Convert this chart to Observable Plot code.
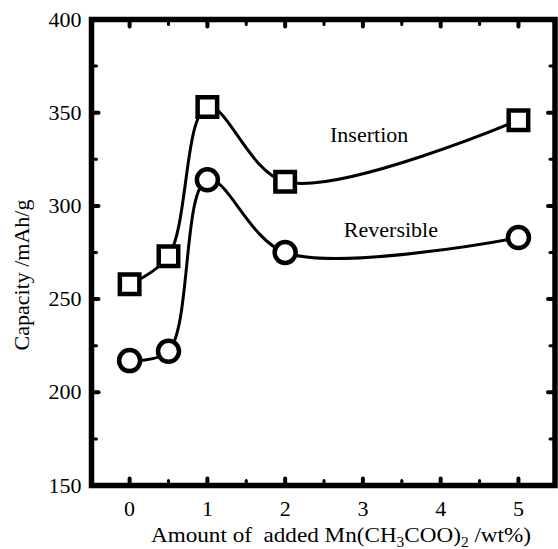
<!DOCTYPE html>
<html><head><meta charset="utf-8">
<script src="https://cdn.jsdelivr.net/npm/d3@7"></script>
<script src="https://cdn.jsdelivr.net/npm/@observablehq/plot@0.6"></script>
<style>body{margin:0;background:#fff} svg{display:block} svg text{font-family:'Liberation Serif','Times New Roman','DejaVu Serif',serif}</style>
</head><body><div id="chart"></div>
<script>
const amounts = [0, 0.5, 1, 2, 5];
const insertion = [258, 273, 353, 313, 346];
const reversible = [217, 222, 314, 275, 283];
const xMajorTicks = [0, 1, 2, 3, 4, 5];
const xMinorTicks = [0.5, 1.5, 2.5, 3.5, 4.5];
const yMajorTicks = [150, 200, 250, 300, 350, 400];
const yMinorTicks = [175, 225, 275, 325, 375];
const seriesNames = ["Insertion", "Reversible"];
const labelX = [3.08, 3.36];
const labelY = [338, 287];
const yTitle = "Capacity /mAh/g";

const ins = amounts.map((a, i) => ({x: a, y: insertion[i]}));
const rev = amounts.map((a, i) => ({x: a, y: reversible[i]}));
const labels = seriesNames.map((t, i) => ({t, x: labelX[i], y: labelY[i]}));
const tickShape = {draw(ctx, l) { ctx.moveTo(0, 0); ctx.lineTo(0, -l); }};
const F = "'Liberation Serif', 'Times New Roman', 'DejaVu Serif', serif";

function ticks(data, ch, anchor, rotate, length, sw) {
  return Plot.vector(data, {[ch]: d => d, frameAnchor: anchor, rotate, length, anchor: "start", shape: tickShape, stroke: "black", strokeWidth: sw});
}

const plot = Plot.plot({
  width: 558, height: 549,
  marginLeft: 91, marginRight: 3.5, marginTop: 19, marginBottom: 64,
  style: {fontFamily: F, fontSize: "22px", color: "black", background: "white"},
  x: {domain: [-0.49, 5.47]},
  y: {domain: [150, 400]},
  marks: [
    Plot.line(ins, {x: "x", y: "y", curve: "catmull-rom", stroke: "black", strokeWidth: 3}),
    Plot.line(rev, {x: "x", y: "y", curve: "catmull-rom", stroke: "black", strokeWidth: 3}),
    Plot.dot(ins, {x: "x", y: "y", symbol: "square", r: 11, stroke: "black", strokeWidth: 4.5, fill: "white"}),
    Plot.dot(rev, {x: "x", y: "y", symbol: "circle", r: 10.5, stroke: "black", strokeWidth: 4.5, fill: "white"}),
    Plot.text(labels, {x: "x", y: "y", text: "t", fontSize: 22, fontFamily: F, fill: "black"}),
    ticks(xMajorTicks, "x", "bottom", 0, 7, 4),
    ticks(xMinorTicks, "x", "bottom", 0, 5, 3),
    ticks(xMajorTicks, "x", "top", 180, 7, 4),
    ticks(xMinorTicks, "x", "top", 180, 5, 3),
    ticks(yMajorTicks, "y", "left", 90, 7, 4),
    ticks(yMinorTicks, "y", "left", 90, 5, 3),
    ticks(yMajorTicks, "y", "right", -90, 7, 4),
    ticks(yMinorTicks, "y", "right", -90, 5, 3),
    Plot.frame({stroke: "black", strokeWidth: 5.5}),
    Plot.axisX({ticks: xMajorTicks, tickFormat: d3.format("d"), tickSize: 0, tickPadding: 15, label: null, fontSize: 22}),
    Plot.axisY({ticks: yMajorTicks, tickFormat: d3.format("d"), tickSize: 0, tickPadding: 10, label: null, fontSize: 22})
  ]
});

const svg = d3.select(plot);
svg.append("text")
  .attr("transform", "translate(22,275) rotate(-90)")
  .attr("text-anchor", "middle").attr("dy", "0.32em")
  .attr("font-size", 22).attr("fill", "black")
  .style("font-family", F)
  .text(yTitle);

const t = svg.append("text")
  .attr("x", 341).attr("y", 542)
  .attr("text-anchor", "middle")
  .attr("font-size", 21).attr("fill", "black")
  .attr("textLength", 380).attr("lengthAdjust", "spacingAndGlyphs")
  .style("font-family", F)
  .attr("xml:space", "preserve");
t.append("tspan").text("Amount of\u00a0 added Mn(CH");
t.append("tspan").attr("font-size", 14).attr("dy", 5).text("3");
t.append("tspan").attr("dy", -5).text("COO)");
t.append("tspan").attr("font-size", 14).attr("dy", 5).text("2");
t.append("tspan").attr("dy", -5).text(" /wt%)");

document.getElementById("chart").appendChild(plot);
</script>
</body></html>
